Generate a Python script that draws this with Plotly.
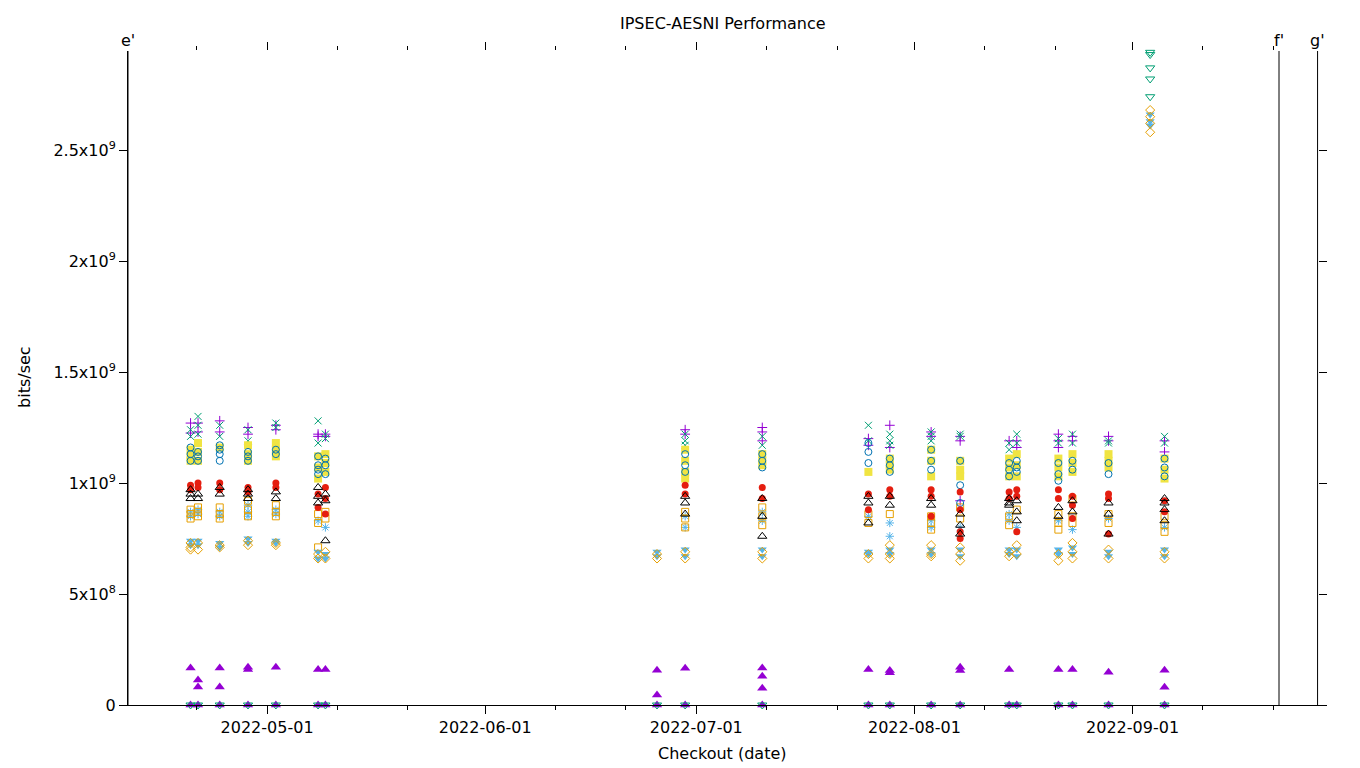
import plotly.graph_objects as go

# checkout timestamps (one column of runs per checkout)
checkouts = [
    "2022-04-20 03:00", "2022-04-21 04:30", "2022-04-24 06:30", "2022-04-28 07:00",
    "2022-05-02 06:00", "2022-05-08 06:00", "2022-05-09 07:00", "2022-06-25 10:00",
    "2022-06-29 10:00", "2022-07-10 09:00", "2022-07-25 11:00", "2022-07-28 12:00",
    "2022-08-03 09:00", "2022-08-07 12:00", "2022-08-14 11:00", "2022-08-15 13:00",
    "2022-08-21 11:00", "2022-08-23 11:00", "2022-08-28 14:00", "2022-09-03 12:00",
    "2022-09-05 13:00",
]

# throughput per run, in units of 1e9 bits/sec, one list per checkout
plus_purple = [[1.27, 1.225], [1.27, 1.23], [1.28, 1.23], [1.25, 1.22], [1.24, 1.26],
               [1.22, 1.21], [1.21, 1.22], [], [1.24, 1.22], [1.25, 1.23, 1.19],
               [1.20, 1.17], [1.26, 1.16], [1.23, 1.21], [1.21, 1.19, 0.92], [1.19],
               [1.19, 1.16], [1.22, 1.19, 1.16], [1.21, 1.19], [1.21, 1.19], [], [1.19, 1.14]]
x_green = [[1.24, 1.21], [1.30, 1.26, 1.22], [1.26, 1.21], [1.24, 1.19], [1.27, 1.25],
           [1.28, 1.18], [1.22, 1.20], [], [1.22, 1.19, 1.17], [1.21, 1.17],
           [1.26, 1.19], [1.22, 1.19, 1.17], [1.23, 1.21, 1.19], [1.22, 1.21], [1.18, 1.15],
           [1.22, 1.18], [1.20, 1.18], [1.22, 1.18], [1.19, 1.18], [], [1.21, 1.18]]
star_skyblue = [[0.87, 0.85], [0.88, 0.86], [0.87, 0.85], [0.90, 0.87, 0.85], [0.88, 0.86],
                [0.83], [0.80], [], [0.85, 0.80], [0.87, 0.83],
                [0.85], [0.82, 0.76], [0.83, 0.80], [0.80], [0.86, 0.83],
                [0.80], [0.83], [0.79], [0.84], [], [0.80]]
square_orange = [[0.88, 0.86, 0.84], [0.89, 0.87, 0.85], [0.89, 0.86, 0.84], [0.92, 0.88, 0.85],
                 [0.90, 0.87, 0.85], [0.86, 0.82, 0.71], [0.87, 0.84], [], [0.87, 0.84, 0.80],
                 [0.89, 0.85, 0.81], [0.86, 0.82], [0.86], [0.85, 0.82, 0.79], [0.89, 0.84],
                 [0.85, 0.81], [0.88], [0.86, 0.82, 0.79], [0.93, 0.85, 0.82], [0.86, 0.82],
                 [], [0.85, 0.81, 0.78]]
square_yellow = [[1.15, 1.12, 1.10], [1.18, 1.14, 1.10], [1.16], [1.17, 1.13, 1.10],
                 [1.18, 1.15, 1.12], [1.12, 1.07, 1.02], [1.13, 1.09, 1.05], [],
                 [1.15, 1.10, 1.05, 1.02], [1.13, 1.10, 1.08], [1.05], [1.11, 1.08, 1.06],
                 [1.15, 1.10, 1.03], [1.10, 1.06, 1.03], [1.11, 1.07, 1.03], [1.13, 1.08, 1.03],
                 [1.11, 1.07, 1.03], [1.13, 1.09, 1.05], [1.13, 1.10, 1.07], [], [1.11, 1.06, 1.02]]
circle_blue = [[1.16, 1.13, 1.10], [1.14, 1.12, 1.10], [1.17, 1.15, 1.13, 1.10], [1.14, 1.12, 1.10],
               [1.15, 1.13], [1.12, 1.08, 1.06, 1.04], [1.11, 1.08, 1.04], [], [1.13, 1.08, 1.05],
               [1.13, 1.10, 1.07], [1.18, 1.14, 1.09], [1.11, 1.08, 1.05], [1.15, 1.10, 1.06],
               [1.10, 0.99, 0.91], [1.09, 1.06, 1.03], [1.10, 1.07, 1.05], [1.09, 1.04, 1.01],
               [1.10, 1.06], [1.09, 1.04], [], [1.11, 1.07, 1.03]]
dot_red = [[0.99, 0.97], [1.00, 0.98], [1.00, 0.97], [0.98, 0.96], [1.00, 0.98],
           [0.95, 0.89], [0.98, 0.93, 0.86], [], [0.99, 0.95], [0.98, 0.93],
           [0.95, 0.88], [0.97, 0.94], [0.97, 0.94, 0.85], [0.96, 0.88, 0.78, 0.75], [0.96, 0.93],
           [0.97, 0.94, 0.78], [0.97, 0.93], [0.94, 0.90, 0.84], [0.95, 0.93, 0.77], [], [0.92, 0.87]]
tri_black = [[0.97, 0.95, 0.93], [0.95, 0.93], [0.98, 0.95], [0.97, 0.95, 0.93], [0.96, 0.93],
             [0.98, 0.94, 0.91], [0.95, 0.92, 0.74], [], [0.94, 0.91, 0.86], [0.93, 0.85, 0.76],
             [0.94, 0.91, 0.82], [0.94, 0.90], [0.93, 0.90], [0.86, 0.81, 0.77], [0.93, 0.91, 0.90],
             [0.92, 0.87, 0.83], [0.89, 0.85], [0.92, 0.87], [0.91, 0.86, 0.77], [],
             [0.93, 0.91, 0.88, 0.83]]
tri_purple = [[0.167, 0], [0.113, 0.081, 0], [0.167, 0.081, 0], [0.17, 0.16, 0], [0.17, 0],
              [0.16, 0], [0.16, 0], [0.157, 0.045, 0], [0.165, 0], [0.167, 0.13, 0.075, 0],
              [0.16, 0], [0.155, 0.145, 0], [0], [0.17, 0.155, 0], [0.16, 0],
              [0], [0.16, 0], [0.16, 0], [0.147, 0], [], [0.157, 0.08, 0]]
tridown_green = [[0], [0], [0], [0], [0], [0], [0], [0], [0], [0], [0], [0], [0], [0], [0],
                 [0], [0], [0], [0], [2.94, 2.93, 2.87, 2.82, 2.74], [0]]
tridown_skyblue = [[0.74, 0.72], [0.74, 0.72], [0.73, 0.71], [0.75, 0.73], [0.74, 0.73],
                   [0.69, 0.66], [0.68, 0.66], [0.69, 0.67], [0.70, 0.67], [0.70, 0.67],
                   [0.69, 0.68], [0.70, 0.68], [0.70, 0.68], [0.70, 0.67], [0.70, 0.68],
                   [0.70, 0.67], [0.70, 0.68], [0.71, 0.68], [0.69, 0.67], [2.66, 2.63, 2.61],
                   [0.70, 0.67]]
diamond_orange = [[0.73, 0.71, 0.70], [0.73, 0.70], [0.72, 0.71], [0.74, 0.72], [0.73, 0.72],
                  [0.68, 0.66], [0.69, 0.66], [0.68, 0.66], [0.69, 0.66], [0.69, 0.66],
                  [0.68, 0.66], [0.72, 0.68, 0.66], [0.72, 0.68, 0.67], [0.71, 0.68, 0.65],
                  [0.69, 0.67], [0.72, 0.68], [0.68, 0.65], [0.73, 0.69, 0.66], [0.70, 0.66],
                  [2.68, 2.65, 2.62, 2.58], [0.69, 0.66]]

# axis ticks
month_ticks = ["2022-05-01", "2022-06-01", "2022-07-01", "2022-08-01", "2022-09-01"]
minor_ticks = ["2022-04-21", "2022-05-11", "2022-05-21", "2022-06-11", "2022-06-21",
               "2022-07-11", "2022-07-21", "2022-08-11", "2022-08-21", "2022-09-11", "2022-09-21"]
y_ticks = [0, 5e8, 1e9, 1.5e9, 2e9, 2.5e9]
y_labels = ["0", "5x10<sup>8</sup>", "1x10<sup>9</sup>", "1.5x10<sup>9</sup>",
            "2x10<sup>9</sup>", "2.5x10<sup>9</sup>"]

# event markers along the top
events = ["e'", "f'", "g'"]
event_dates = ["2022-04-11 05:40", "2022-09-21 19:30", "2022-09-27 07:00"]

x_range = ["2022-04-11 05:40", "2022-09-28 15:10"]
y_range = [0, 2.946e9]

# gnuplot-style point types, drawn in plot order; the last one sits on the mirror axes
series = [
    (plus_purple, "cross-thin-open", "#9400D3", 7, 1),
    (x_green, "x-thin-open", "#009E73", 7, 1),
    (star_skyblue, "asterisk-open", "#56B4E9", 7, 1),
    (square_orange, "square-open", "#E69F00", 7, 1),
    (square_yellow, "square", "#F0E442", 8, 0),
    (circle_blue, "circle-open", "#0072B2", 7, 1),
    (dot_red, "circle", "#E51E10", 7, 0),
    (tri_black, "triangle-up-open", "#000000", 8, 1),
    (tri_purple, "triangle-up", "#9400D3", 9, 0),
    (tridown_green, "triangle-down-open", "#009E73", 8, 1),
    (tridown_skyblue, "triangle-down", "#56B4E9", 8, 0),
    (diamond_orange, "diamond-open", "#E69F00", 7, 1),
]

fig = go.Figure()
for i, (vals, sym, col, sz, lw) in enumerate(series):
    xs, ys = [], []
    for d, runs in zip(checkouts, vals):
        for v in runs:
            xs.append(d)
            ys.append(v * 1e9)
    last = i == len(series) - 1
    fig.add_trace(go.Scatter(
        x=xs, y=ys, mode="markers", cliponaxis=False, showlegend=False, hoverinfo="skip",
        xaxis="x2" if last else "x", yaxis="y2" if last else "y",
        marker=dict(symbol=sym, color=col, size=sz, line=dict(color=col, width=lw)),
    ))

tick_style = dict(tickcolor="black", tickwidth=1, showgrid=False, zeroline=False)

# the page body adds an 8px offset, so the figure is 8px smaller than the window
fig.update_layout(
    width=1352, height=760,
    margin=dict(l=120, r=33, t=43, b=63),
    plot_bgcolor="white", paper_bgcolor="white",
    font=dict(family="DejaVu Sans", size=16, color="black"),
    xaxis=dict(type="date", range=x_range, tickvals=month_ticks, ticktext=month_ticks,
               ticks="outside", ticklen=8, showline=True, linecolor="black", linewidth=1,
               minor=dict(tickvals=minor_ticks, ticks="outside", ticklen=4, tickcolor="black"),
               **tick_style),
    xaxis2=dict(type="date", range=x_range, overlaying="x", side="top", tickvals=month_ticks,
                ticks="outside", showticklabels=False, ticklen=8, showline=False,
                minor=dict(tickvals=minor_ticks, ticks="outside", ticklen=4, tickcolor="black"),
                **tick_style),
    yaxis=dict(range=y_range, tickvals=y_ticks, ticktext=y_labels, ticks="outside", ticklen=8,
               showline=True, linecolor="black", linewidth=1, **tick_style),
    yaxis2=dict(range=y_range, overlaying="y", side="right", tickvals=y_ticks,
                ticks="inside", showticklabels=False, ticklen=8, showline=False, **tick_style),
)

for name, d in zip(events, event_dates):
    fig.add_shape(type="line", xref="x", yref="paper", x0=d, x1=d, y0=0, y1=1,
                  line=dict(color="black", width=1))
    fig.add_annotation(text=name, xref="x", yref="paper", x=d, y=1.0168, yanchor="middle",
                       showarrow=False)

fig.add_annotation(text="IPSEC-AESNI Performance", xref="paper", yref="paper",
                   x=0.496, y=1.0413, yanchor="middle", showarrow=False)
fig.add_annotation(text="Checkout (date)", xref="paper", yref="paper",
                   x=0.496, y=-0.0749, yanchor="middle", showarrow=False)
fig.add_annotation(text="bits/sec", xref="paper", yref="paper", textangle=-90,
                   x=-0.0868, y=0.5015, xanchor="center", yanchor="middle", showarrow=False)

fig.write_html("out.html")
